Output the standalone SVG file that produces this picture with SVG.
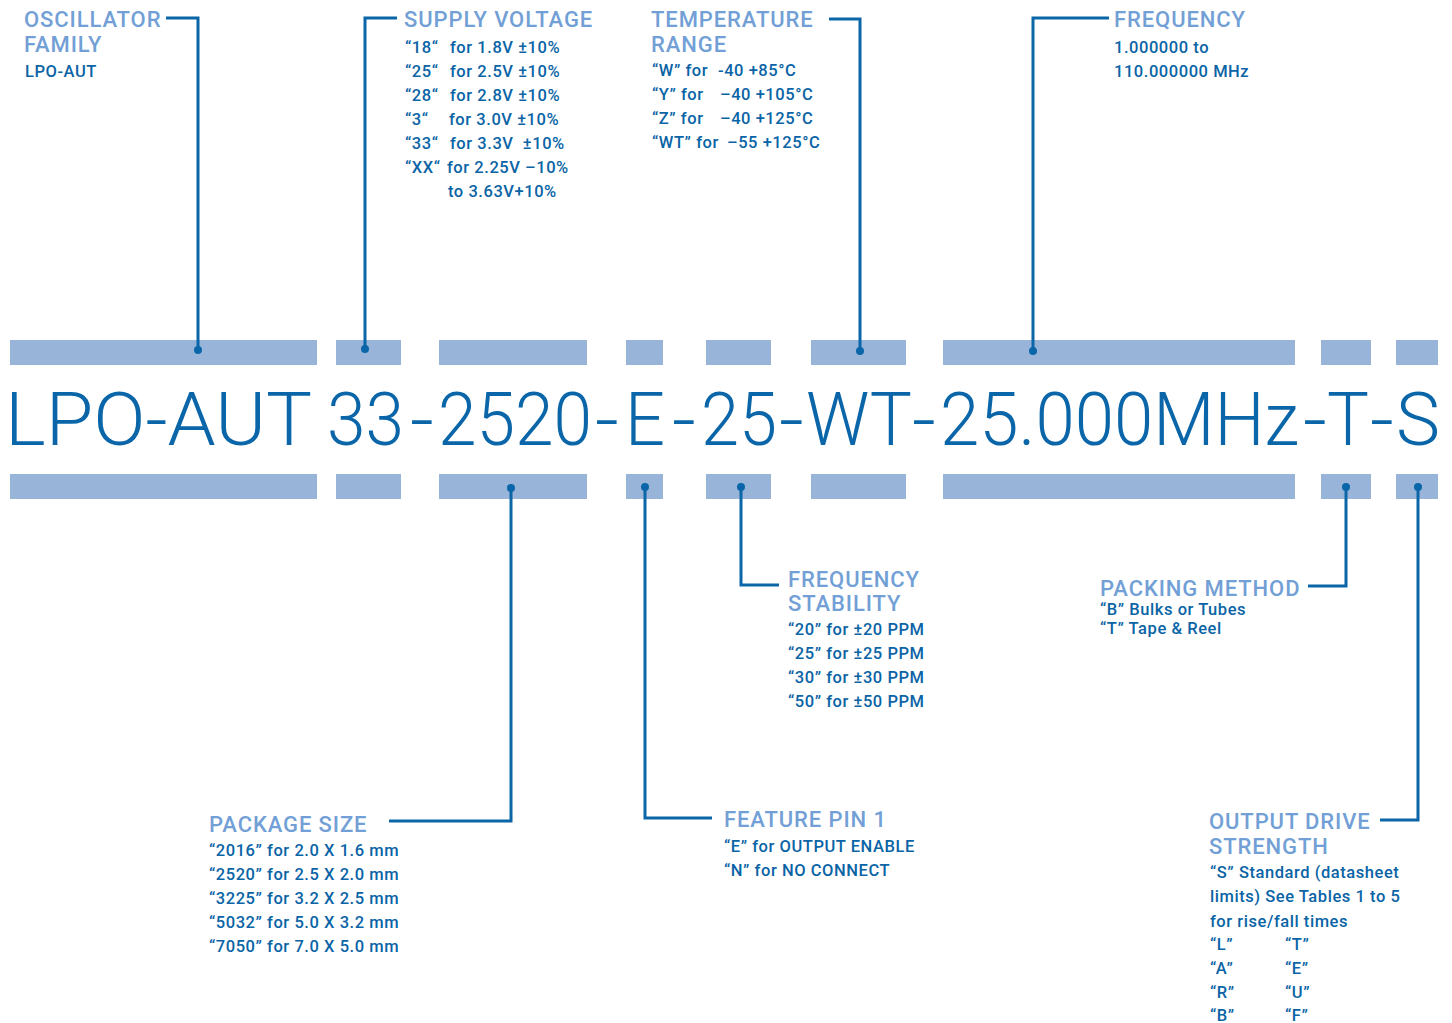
<svg xmlns="http://www.w3.org/2000/svg" width="1452" height="1023" viewBox="0 0 1452 1023">
<style>
.bar{fill:#98b4d8}
.code{font-family:Roboto,"Liberation Sans",sans-serif;font-weight:300;font-size:68px;fill:#0a66a8}
.hd{font-family:Roboto,"Liberation Sans",sans-serif;font-weight:500;font-size:22px;letter-spacing:0.9px;fill:#729fd6}
.bd{font-family:Roboto,"Liberation Sans",sans-serif;font-weight:500;font-size:16.5px;letter-spacing:0.55px;fill:#0a64a6;white-space:pre}
.ln{fill:none;stroke:#0a66a8;stroke-width:3}
.dot{fill:#0a66a8}
</style>
<rect width="1452" height="1023" fill="#fff"/>
<g id="bars">
<rect class="bar" x="10" y="340" width="307" height="25"/>
<rect class="bar" x="336" y="340" width="65" height="25"/>
<rect class="bar" x="439" y="340" width="148" height="25"/>
<rect class="bar" x="626" y="340" width="37" height="25"/>
<rect class="bar" x="706" y="340" width="65" height="25"/>
<rect class="bar" x="811" y="340" width="95" height="25"/>
<rect class="bar" x="943" y="340" width="352" height="25"/>
<rect class="bar" x="1321" y="340" width="50" height="25"/>
<rect class="bar" x="1396" y="340" width="42" height="25"/>
<rect class="bar" x="10" y="474" width="307" height="25"/>
<rect class="bar" x="336" y="474" width="65" height="25"/>
<rect class="bar" x="439" y="474" width="148" height="25"/>
<rect class="bar" x="626" y="474" width="37" height="25"/>
<rect class="bar" x="706" y="474" width="65" height="25"/>
<rect class="bar" x="811" y="474" width="95" height="25"/>
<rect class="bar" x="943" y="474" width="352" height="25"/>
<rect class="bar" x="1321" y="474" width="50" height="25"/>
<rect class="bar" x="1396" y="474" width="42" height="25"/>
</g>
<g id="part-number" transform="scale(1,1.103)">
<text class="code" x="5" y="403.4" textLength="307" lengthAdjust="spacingAndGlyphs">LPO-AUT</text>
<text class="code" x="327" y="403.4" textLength="77" lengthAdjust="spacingAndGlyphs">33</text>
<text class="code" x="410" y="403.4" textLength="24" lengthAdjust="spacingAndGlyphs">-</text>
<text class="code" x="438" y="403.4" textLength="154" lengthAdjust="spacingAndGlyphs">2520</text>
<text class="code" x="595" y="403.4" textLength="24" lengthAdjust="spacingAndGlyphs">-</text>
<text class="code" x="625" y="403.4" textLength="40" lengthAdjust="spacingAndGlyphs">E</text>
<text class="code" x="672" y="403.4" textLength="24" lengthAdjust="spacingAndGlyphs">-</text>
<text class="code" x="701" y="403.4" textLength="76" lengthAdjust="spacingAndGlyphs">25</text>
<text class="code" x="779" y="403.4" textLength="25" lengthAdjust="spacingAndGlyphs">-</text>
<text class="code" x="806" y="403.4" textLength="106" lengthAdjust="spacingAndGlyphs">WT</text>
<text class="code" x="912" y="403.4" textLength="24" lengthAdjust="spacingAndGlyphs">-</text>
<text class="code" x="940" y="403.4" textLength="359" lengthAdjust="spacingAndGlyphs">25.000MHz</text>
<text class="code" x="1303" y="403.4" textLength="24" lengthAdjust="spacingAndGlyphs">-</text>
<text class="code" x="1327" y="403.4" textLength="42" lengthAdjust="spacingAndGlyphs">T</text>
<text class="code" x="1370" y="403.4" textLength="24" lengthAdjust="spacingAndGlyphs">-</text>
<text class="code" x="1396" y="403.4" textLength="44" lengthAdjust="spacingAndGlyphs">S</text>
</g>
<g id="connectors">
<path class="ln" d="M166,18 H198 V350"/>
<path class="ln" d="M397,18 H365 V349"/>
<path class="ln" d="M829,19 H860 V351"/>
<path class="ln" d="M1109,18 H1033 V351"/>
<path class="ln" d="M389,821 H511 V488"/>
<path class="ln" d="M645,487 V818 H712"/>
<path class="ln" d="M741,487 V585 H779"/>
<path class="ln" d="M1308,586 H1346 V487"/>
<path class="ln" d="M1380,820 H1418 V487"/>
<circle class="dot" cx="198" cy="350" r="4"/>
<circle class="dot" cx="365" cy="349" r="4"/>
<circle class="dot" cx="860" cy="351" r="4"/>
<circle class="dot" cx="1033" cy="351" r="4"/>
<circle class="dot" cx="511" cy="488" r="4"/>
<circle class="dot" cx="645" cy="487" r="4"/>
<circle class="dot" cx="741" cy="487" r="4"/>
<circle class="dot" cx="1346" cy="487" r="4"/>
<circle class="dot" cx="1418" cy="487" r="4"/>
</g>
<g id="oscillator-family">
<text class="hd" x="24" y="27">OSCILLATOR</text>
<text class="hd" x="24" y="52">FAMILY</text>
<text class="bd" x="25" y="77">LPO-AUT</text>
</g>
<g id="supply-voltage">
<text class="hd" x="404" y="27">SUPPLY VOLTAGE</text>
<text class="bd" y="53"><tspan x="405">“18“</tspan><tspan x="450">for 1.8V ±10%</tspan></text>
<text class="bd" y="77"><tspan x="405">“25“</tspan><tspan x="450">for 2.5V ±10%</tspan></text>
<text class="bd" y="101"><tspan x="405">“28“</tspan><tspan x="450">for 2.8V ±10%</tspan></text>
<text class="bd" y="125"><tspan x="405">“3“</tspan><tspan x="449">for 3.0V ±10%</tspan></text>
<text class="bd" y="149"><tspan x="405">“33“</tspan><tspan x="450">for 3.3V  ±10%</tspan></text>
<text class="bd" y="173"><tspan x="405">“XX“</tspan><tspan x="447">for 2.25V –10%</tspan></text>
<text class="bd" x="448" y="197">to 3.63V+10%</text>
</g>
<g id="temperature-range">
<text class="hd" x="651" y="27">TEMPERATURE</text>
<text class="hd" x="651" y="52">RANGE</text>
<text class="bd" y="76"><tspan x="652">“W” for</tspan><tspan x="718">-40 +85°C</tspan></text>
<text class="bd" y="100"><tspan x="652">“Y” for</tspan><tspan x="720">–40 +105°C</tspan></text>
<text class="bd" y="124"><tspan x="652">“Z” for</tspan><tspan x="720">–40 +125°C</tspan></text>
<text class="bd" y="148"><tspan x="652">“WT” for</tspan><tspan x="727">–55 +125°C</tspan></text>
</g>
<g id="frequency">
<text class="hd" x="1114" y="27">FREQUENCY</text>
<text class="bd" x="1114" y="53">1.000000 to</text>
<text class="bd" x="1114" y="77">110.000000 MHz</text>
</g>
<g id="package-size">
<text class="hd" x="209" y="832">PACKAGE SIZE</text>
<text class="bd" x="209" y="856">“2016” for 2.0 X 1.6 mm</text>
<text class="bd" x="209" y="880">“2520” for 2.5 X 2.0 mm</text>
<text class="bd" x="209" y="904">“3225” for 3.2 X 2.5 mm</text>
<text class="bd" x="209" y="928">“5032” for 5.0 X 3.2 mm</text>
<text class="bd" x="209" y="952">“7050” for 7.0 X 5.0 mm</text>
</g>
<g id="feature-pin-1">
<text class="hd" x="724" y="827">FEATURE PIN 1</text>
<text class="bd" x="724" y="852">“E” for OUTPUT ENABLE</text>
<text class="bd" x="724" y="876">“N” for NO CONNECT</text>
</g>
<g id="frequency-stability">
<text class="hd" x="788" y="587">FREQUENCY</text>
<text class="hd" x="788" y="611">STABILITY</text>
<text class="bd" x="788" y="635">“20” for ±20 PPM</text>
<text class="bd" x="788" y="659">“25” for ±25 PPM</text>
<text class="bd" x="788" y="683">“30” for ±30 PPM</text>
<text class="bd" x="788" y="707">“50” for ±50 PPM</text>
</g>
<g id="packing-method">
<text class="hd" x="1100" y="596">PACKING METHOD</text>
<text class="bd" x="1100" y="615">“B” Bulks or Tubes</text>
<text class="bd" x="1100" y="634">“T” Tape &amp; Reel</text>
</g>
<g id="output-drive-strength">
<text class="hd" x="1209" y="829">OUTPUT DRIVE</text>
<text class="hd" x="1209" y="854">STRENGTH</text>
<text class="bd" x="1210" y="878">“S” Standard (datasheet</text>
<text class="bd" x="1210" y="902">limits) See Tables 1 to 5</text>
<text class="bd" x="1210" y="927">for rise/fall times</text>
<text class="bd" y="950"><tspan x="1210">“L”</tspan><tspan x="1285">“T”</tspan></text>
<text class="bd" y="974"><tspan x="1210">“A”</tspan><tspan x="1285">“E”</tspan></text>
<text class="bd" y="998"><tspan x="1210">“R”</tspan><tspan x="1285">“U”</tspan></text>
<text class="bd" y="1021"><tspan x="1210">“B”</tspan><tspan x="1285">“F”</tspan></text>
</g>
</svg>
